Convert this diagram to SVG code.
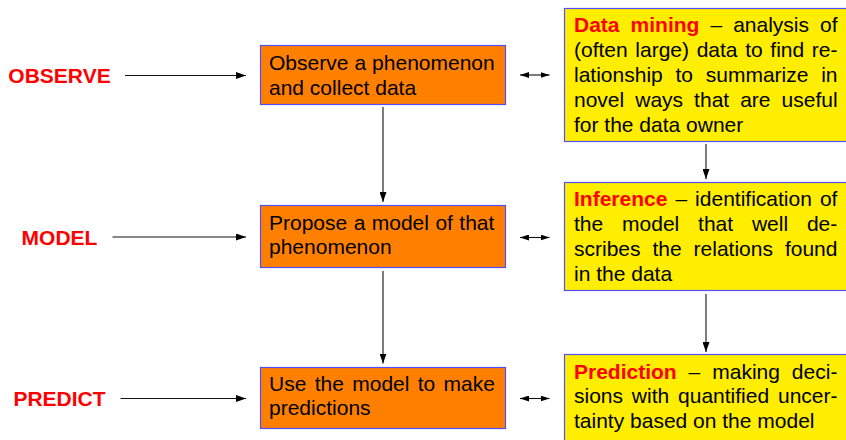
<svg xmlns="http://www.w3.org/2000/svg" width="846" height="440" viewBox="0 0 846 440">
  <style>
    text { font-family: "Liberation Sans", Arial, Helvetica, sans-serif; font-size: 21px; fill: #000; }
    .stage { font-weight: bold; fill: #ff0000; text-anchor: middle; }
    .key { font-weight: bold; fill: #ff0000; }
    .step { fill: #ff8000; stroke: #4f4fff; stroke-width: 1.2; }
    .note { fill: #ffee00; stroke: #4f4fff; stroke-width: 1.2; }
    .link { stroke: #111; stroke-width: 1.1; fill: none; }
  </style>
  <defs>
    <marker id="head" viewBox="0 0 10 7" refX="10" refY="3.5" markerWidth="10" markerHeight="7" markerUnits="userSpaceOnUse" orient="auto">
      <path d="M0,0 L10,3.5 L0,7 z" fill="#000"/>
    </marker>
    <marker id="small" viewBox="0 0 9 6" refX="9" refY="3" markerWidth="9" markerHeight="6" markerUnits="userSpaceOnUse" orient="auto-start-reverse">
      <path d="M0,0 L9,3 L0,6 z" fill="#000"/>
    </marker>
  </defs>

  <!-- stage labels -->
  <g id="observe"><text class="stage" x="59.5" y="83">OBSERVE</text></g>
  <g id="model"><text class="stage" x="59.5" y="244.5">MODEL</text></g>
  <g id="predict"><text class="stage" x="59.5" y="406">PREDICT</text></g>

  <!-- scientific method steps -->
  <g id="step-observe">
    <rect class="step" x="260.5" y="45.5" width="245" height="59"/>
    <text x="269" y="70" word-spacing="0.2">Observe a phenomenon</text>
    <text x="269" y="94.5">and collect data</text>
  </g>
  <g id="step-model">
    <rect class="step" x="260.5" y="205.5" width="245" height="62"/>
    <text x="269" y="229.5" word-spacing="0.6">Propose a model of that</text>
    <text x="269" y="254">phenomenon</text>
  </g>
  <g id="step-predict">
    <rect class="step" x="260.5" y="367.5" width="245" height="61"/>
    <text x="269" y="390.5" word-spacing="2.5">Use the model to make</text>
    <text x="269" y="415">predictions</text>
  </g>

  <!-- data science counterparts -->
  <g id="data-mining">
    <rect class="note" x="564.5" y="8.5" width="300" height="133"/>
    <text x="574" y="32" word-spacing="5.2"><tspan class="key">Data mining</tspan> – analysis of</text>
    <text x="574" y="57" word-spacing="1.8">(often large) data to find re-</text>
    <text x="574" y="82" word-spacing="6.9">lationship to summarize in</text>
    <text x="574" y="107" word-spacing="5.2">novel ways that are useful</text>
    <text x="574" y="131.5">for the data owner</text>
  </g>
  <g id="inference">
    <rect class="note" x="564.5" y="182.5" width="300" height="108"/>
    <text x="574" y="206" word-spacing="2.2"><tspan class="key">Inference</tspan> – identification of</text>
    <text x="574" y="231" word-spacing="13">the model that well de-</text>
    <text x="574" y="256" word-spacing="6.1">scribes the relations found</text>
    <text x="574" y="280.5">in the data</text>
  </g>
  <g id="prediction">
    <rect class="note" x="564.5" y="354.5" width="300" height="100"/>
    <text x="574" y="378.5" word-spacing="6.1"><tspan class="key">Prediction</tspan> – making deci-</text>
    <text x="574" y="403" word-spacing="3">sions with quantified uncer-</text>
    <text x="574" y="427.5">tainty based on the model</text>
  </g>

  <!-- connectors -->
  <g id="connectors">
    <line class="link" x1="125" y1="75.5" x2="246" y2="75.5" marker-end="url(#head)"/>
    <line class="link" x1="112.5" y1="237" x2="246" y2="237" marker-end="url(#head)"/>
    <line class="link" x1="120.5" y1="398.5" x2="246" y2="398.5" marker-end="url(#head)"/>

    <line class="link" x1="383" y1="107" x2="383" y2="202" marker-end="url(#head)"/>
    <line class="link" x1="383" y1="271" x2="383" y2="363.5" marker-end="url(#head)"/>

    <line class="link" x1="706" y1="144" x2="706" y2="179" marker-end="url(#head)"/>
    <line class="link" x1="706" y1="294" x2="706" y2="352" marker-end="url(#head)"/>

    <line class="link" x1="520" y1="75" x2="549.5" y2="75" marker-start="url(#small)" marker-end="url(#small)"/>
    <line class="link" x1="520" y1="237.5" x2="549.5" y2="237.5" marker-start="url(#small)" marker-end="url(#small)"/>
    <line class="link" x1="520" y1="398.5" x2="549.5" y2="398.5" marker-start="url(#small)" marker-end="url(#small)"/>
  </g>
</svg>
